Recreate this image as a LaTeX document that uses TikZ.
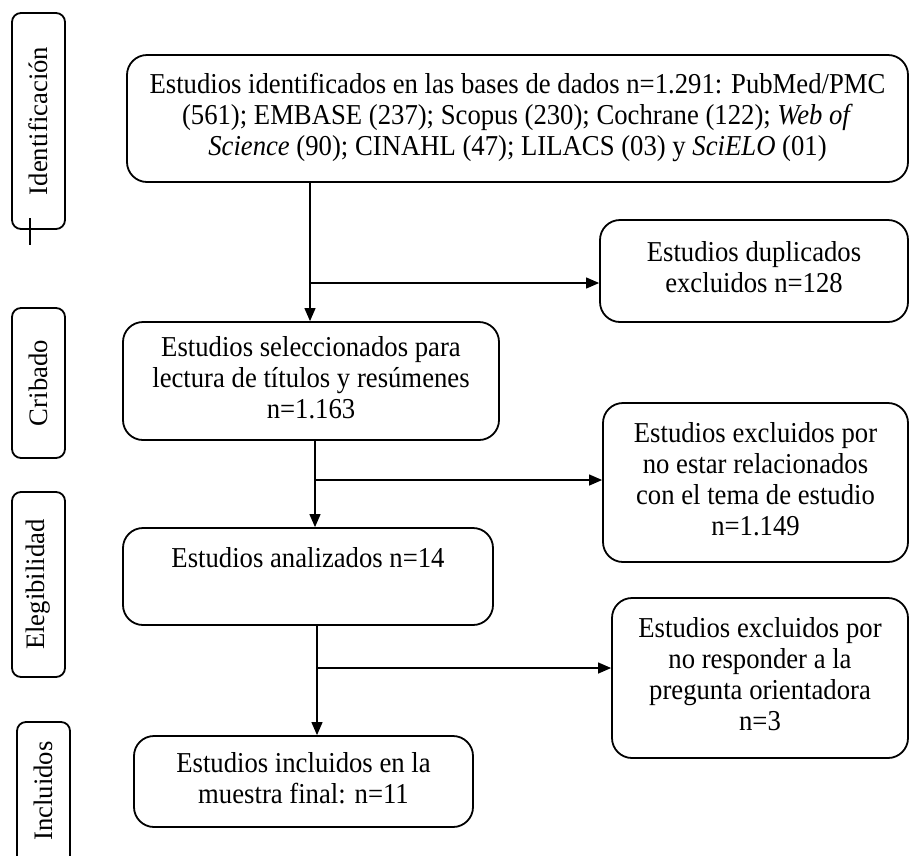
\documentclass[tikz,border=0pt]{standalone}
\usepackage{fontspec}
\setmainfont{Liberation Serif}
\usetikzlibrary{arrows.meta}
\newcommand\vtext[1]{\scalebox{1}[1.08]{\begin{tabular}{@{}c@{}}#1\end{tabular}}}
\begin{document}
\begin{tikzpicture}[x=1pt,y=-1pt,
  txt/.style={font=\fontsize{26.7}{28.7}\selectfont},
  box/.style={draw, line width=1.8pt, rounded corners=20pt, inner sep=0pt, txt},
  lab/.style={draw, line width=1.8pt, rounded corners=9pt, inner sep=0pt, txt},
  conn/.style={line width=1.2pt},
  arr/.style={conn, -{Triangle[length=13pt,width=11pt]}}]
\clip (0,0) rectangle (910,855);
\path[use as bounding box] (0,0) rectangle (910,855);

% phase labels
\node[lab, rotate=90, minimum width=216pt, minimum height=53pt] (l1) at (38.5,121) {Identificación};
\node[lab, rotate=90, minimum width=150pt, minimum height=53pt] (l2) at (38.5,383) {Cribado};
\node[lab, rotate=90, minimum width=185pt, minimum height=53pt] (l3) at (38.5,584.5) {Elegibilidad};
\node[lab, rotate=90, minimum width=158pt, minimum height=53pt] (l4) at (43.5,801) {};
\node[txt, rotate=90] (l4t) at (43.5,791) {Incluidos};
\coordinate (t1) at (30,218);
\coordinate (t2) at (30,245);
\draw[conn] (t1) -- (t2);

% main boxes
\node[box, minimum width=781pt, minimum height=127pt] (b1) at (517.5,118.5)
 {\vtext{Estudios identificados en las bases de dados n=1.291: PubMed/PMC\\
  (561); EMBASE (237); Scopus (230); Cochrane (122); \textit{Web of}\\
  \textit{Science} (90); CINAHL (47); LILACS (03) y \textit{SciELO} (01)}};
\node[box, minimum width=376pt, minimum height=118pt] (b2) at (311,381)
 {\vtext{Estudios seleccionados para\\lectura de títulos y resúmenes\\n=1.163}};
\node[box, minimum width=370pt, minimum height=97pt] (b3) at (308,576.5)
 {\vtext{Estudios analizados n=14\\ \mbox{}}};
\node[box, minimum width=339pt, minimum height=91pt] (b4) at (303.5,781.5)
 {\vtext{Estudios incluidos en la\\muestra final: n=11}};

% exclusion boxes
\node[box, minimum width=308pt, minimum height=102pt] (dup) at (754,271)
 {\vtext{Estudios duplicados\\excluidos n=128}};
\node[box, minimum width=305pt, minimum height=159pt] (ex1) at (755.5,482.5)
 {\vtext{Estudios excluidos por\\no estar relacionados\\con el tema de estudio\\n=1.149}};
\node[box, minimum width=296pt, minimum height=160pt] (ex2) at (760,678)
 {\vtext{Estudios excluidos por\\no responder a la\\pregunta orientadora\\n=3}};

% connectors
\coordinate (j1) at (310,283);
\coordinate (j2) at (315,480);
\coordinate (j3) at (317,668);
\draw[arr] (b1.south -| j1) -- (b2.north -| j1);
\draw[arr] (j1) -- (j1 -| dup.west);
\draw[arr] (b2.south -| j2) -- (b3.north -| j2);
\draw[arr] (j2) -- (j2 -| ex1.west);
\draw[arr] (b3.south -| j3) -- (b4.north -| j3);
\draw[arr] (j3) -- (j3 -| ex2.west);
\end{tikzpicture}
\end{document}
